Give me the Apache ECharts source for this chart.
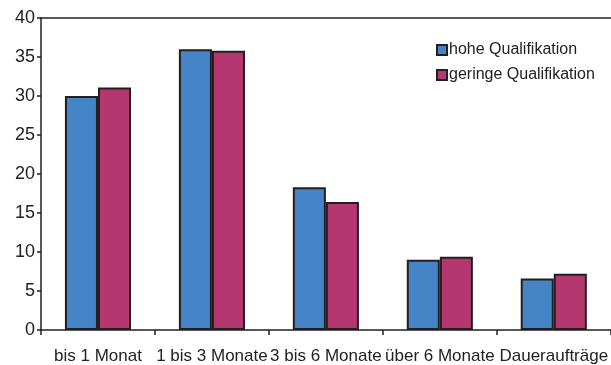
<!DOCTYPE html>
<html>
<head>
<meta charset="utf-8">
<script src="https://cdn.jsdelivr.net/npm/echarts@6/dist/echarts.min.js"></script>
<style>
  html, body { margin: 0; padding: 0; background: #fff; }
  #chart { width: 611px; height: 365px; }
</style>
</head>
<body>
<div id="chart"></div>
<script>
// Auftragsdauer nach Qualifikationsniveau (Anteile in %)
const categories = ['bis 1 Monat', '1 bis 3 Monate', '3 bis 6 Monate', 'über 6 Monate', 'Daueraufträge'];
const hoheQualifikation = [30.0, 36.0, 18.3, 9.0, 6.6];
const geringeQualifikation = [31.1, 35.8, 16.4, 9.4, 7.2];
const seriesNames = ['hohe Qualifikation', 'geringe Qualifikation'];

const FONT = '"Liberation Sans Narrow", "Arial Narrow", "Liberation Sans", sans-serif';
const TEXT = '#222';

const chart = echarts.init(document.getElementById('chart'), null, { renderer: 'canvas' });

const barStyle = (color) => ({
  color: color,
  borderColor: '#231f20',
  borderWidth: 2
});

chart.setOption({
  animation: false,
  backgroundColor: '#fff',
  grid: { left: 41, right: -1, top: 18, bottom: 35, containLabel: false },
  legend: {
    orient: 'vertical',
    left: 431,
    top: 37,
    itemWidth: 10,
    itemHeight: 10,
    itemGap: 9,
    icon: 'rect',
    textStyle: { fontFamily: FONT, fontSize: 16, color: TEXT, padding: [0, 0, 0, -3] },
    data: seriesNames
  },
  xAxis: [
    {
      type: 'category',
      data: categories,
      axisLine: { lineStyle: { color: '#231f20', width: 1.5 } },
      axisTick: { show: true, length: 5, alignWithLabel: false, lineStyle: { color: '#231f20', width: 1.5 } },
      axisLabel: { fontFamily: FONT, fontSize: 17, color: TEXT, margin: 18, interval: 0 }
    },
    {
      type: 'category',
      position: 'top',
      data: categories,
      axisLine: { lineStyle: { color: '#231f20', width: 1.5 } },
      axisTick: { show: false },
      axisLabel: { show: false }
    }
  ],
  yAxis: {
    type: 'value',
    min: 0,
    max: 40,
    interval: 5,
    splitLine: { show: false },
    axisLine: { show: true, lineStyle: { color: '#231f20', width: 1.5 } },
    axisTick: { show: true, length: 4, lineStyle: { color: '#231f20', width: 1.5 } },
    axisLabel: { fontFamily: FONT, fontSize: 18, color: TEXT, margin: 6 }
  },
  series: [
    {
      name: seriesNames[0],
      type: 'bar',
      data: hoheQualifikation,
      barGap: '0%',
      barCategoryGap: '42%',
      itemStyle: barStyle('#4584c6')
    },
    {
      name: seriesNames[1],
      type: 'bar',
      data: geringeQualifikation,
      itemStyle: barStyle('#b5376f')
    }
  ]
});
</script>
</body>
</html>
